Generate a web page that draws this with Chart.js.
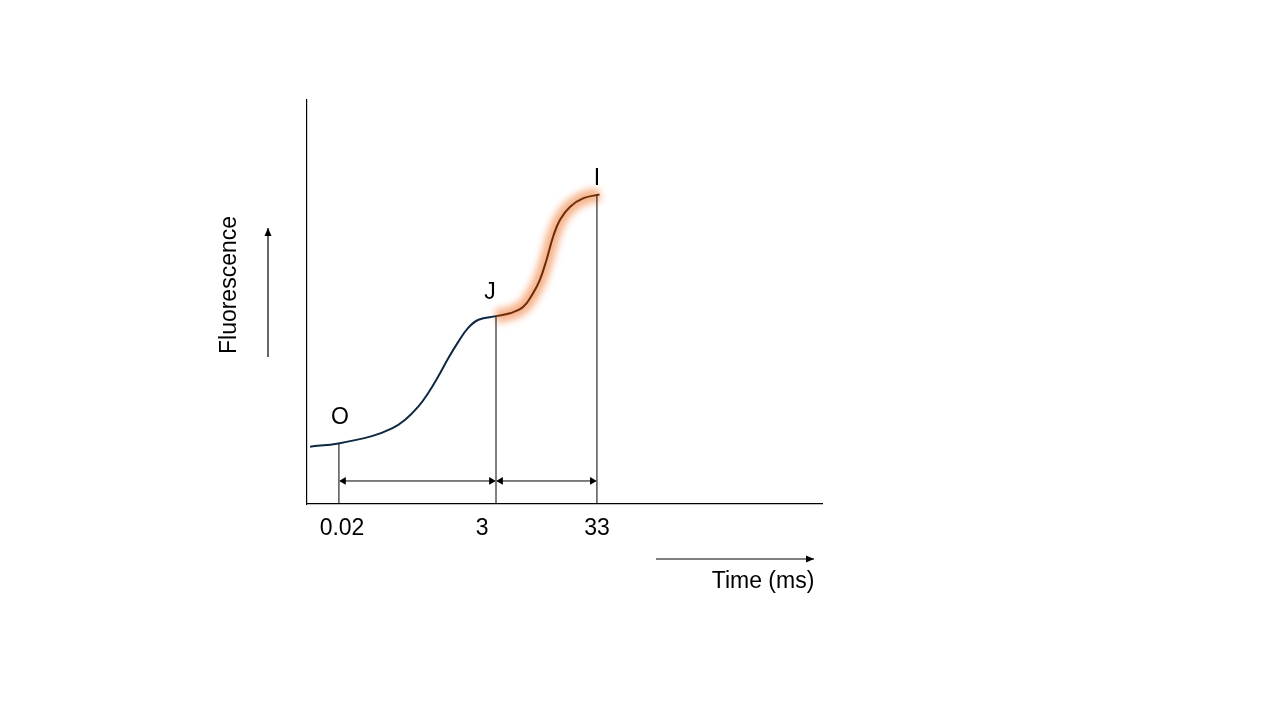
<!DOCTYPE html>
<html>
<head>
<meta charset="utf-8">
<script src="https://cdn.jsdelivr.net/npm/chart.js@4.4.1/dist/chart.umd.min.js"></script>
<style>
html,body{margin:0;padding:0;background:#fff;}
#wrap{width:1280px;height:720px;position:relative;}
</style>
</head>
<body>
<div id="wrap"><canvas id="c" width="1280" height="720"></canvas></div>
<script>
// Schematic OJI fluorescence transient (arbitrary units, x 0..100, y 0..100)
const ojX = [0.6, 6.1, 12.6, 16.5, 19.0, 21.6, 23.6, 25.5, 27.4, 29.4, 31.3, 33.3, 36.7];
const ojY = [14.2, 15.0, 16.8, 18.7, 20.8, 24.1, 27.6, 31.6, 36.0, 40.2, 43.6, 45.6, 46.5];
const jiX = [36.7, 39.4, 42.0, 43.9, 45.2, 46.5, 47.8, 49.1, 51.1, 53.7, 56.8];
const jiY = [46.5, 47.2, 48.8, 52.2, 55.4, 60.4, 66.2, 70.3, 73.6, 75.7, 76.6];
const markX = [6.2, 36.7, 56.3];          // O, J, I times (positions)
const markY = [15.1, 46.5, 76.6];
const markNames = ['O', 'J', 'I'];
const tickValues = [6.8, 34.0, 56.3];
const tickLabels = ['0.02', '3', '33'];
const arrowY = 5.7;

const pts = (xs, ys) => xs.map((x, i) => ({x: x, y: ys[i]}));

const datasets = [
  {data: pts(jiX, jiY), borderColor: 'rgba(245,160,110,0.8)', borderWidth: 14, glow: true,
   pointRadius: 0, tension: 0.4, order: 5},
  {data: pts(ojX, ojY), borderColor: '#0E2841', borderWidth: 2,
   pointRadius: 0, tension: 0.4, order: 1},
  {data: pts(jiX, jiY), borderColor: '#6B2E0A', borderWidth: 2,
   pointRadius: 0, tension: 0.4, order: 1}
];
// vertical marker lines
markX.forEach((x, i) => {
  datasets.push({data: [{x: x, y: 0}, {x: x, y: markY[i]}], borderColor: '#000', borderWidth: 1,
    pointRadius: 0, tension: 0, order: 2});
});
// double-headed interval arrows
for (let i = 0; i < markX.length - 1; i++) {
  datasets.push({data: [{x: markX[i] + 0.9, y: arrowY}, {x: markX[i + 1] - 0.9, y: arrowY}],
    borderColor: '#000', backgroundColor: '#000', borderWidth: 1, tension: 0,
    pointStyle: 'triangle', pointRadius: 4.5, pointRotation: [270, 90], pointBorderWidth: 0,
    order: 2});
}

const glowPlugin = {
  id: 'glow',
  beforeDatasetDraw(chart, args) {
    if (chart.data.datasets[args.index].glow) { chart.ctx.save(); chart.ctx.filter = 'blur(3.5px)'; }
  },
  afterDatasetDraw(chart, args) {
    if (chart.data.datasets[args.index].glow) { chart.ctx.restore(); }
  }
};

const FONT = '"Liberation Sans", Arial, sans-serif';
function arrow(ctx, x1, y1, x2, y2) {
  ctx.beginPath(); ctx.moveTo(x1, y1); ctx.lineTo(x2, y2); ctx.stroke();
  const a = Math.atan2(y2 - y1, x2 - x1), L = 8, W = 3.5;
  ctx.beginPath();
  ctx.moveTo(x2, y2);
  ctx.lineTo(x2 - L * Math.cos(a) + W * Math.sin(a), y2 - L * Math.sin(a) - W * Math.cos(a));
  ctx.lineTo(x2 - L * Math.cos(a) - W * Math.sin(a), y2 - L * Math.sin(a) + W * Math.cos(a));
  ctx.closePath(); ctx.fill();
}

const annot = {
  id: 'annot',
  afterDraw(chart) {
    const {ctx, chartArea: ca, scales: {x, y}} = chart;
    ctx.save();
    ctx.fillStyle = '#000'; ctx.strokeStyle = '#000'; ctx.lineWidth = 1.2;
    ctx.font = '23px ' + FONT;
    ctx.textAlign = 'center'; ctx.textBaseline = 'middle';
    const offs = [[1, -25], [-6, -23], [0, -16]];
    markNames.forEach((n, i) => {
      ctx.fillText(n, x.getPixelForValue(markX[i]) + offs[i][0], y.getPixelForValue(markY[i]) + offs[i][1]);
    });
    tickValues.forEach((v, i) => {
      ctx.fillText(tickLabels[i], x.getPixelForValue(v), ca.bottom + 25);
    });
    ctx.fillText('Time (ms)', ca.right - 59, ca.bottom + 78);
    arrow(ctx, ca.right - 166, ca.bottom + 55, ca.right - 8, ca.bottom + 55);
    ctx.save();
    ctx.translate(ca.left - 77, ca.top + 185);
    ctx.rotate(-Math.PI / 2);
    ctx.fillText('Fluorescence', 0, 0);
    ctx.restore();
    arrow(ctx, ca.left - 39, ca.top + 257, ca.left - 39, ca.top + 128);
    ctx.restore();
  }
};

new Chart(document.getElementById('c'), {
  type: 'line',
  data: {datasets: datasets},
  plugins: [glowPlugin, annot],
  options: {
    responsive: false, animation: false, devicePixelRatio: 1,
    layout: {padding: {left: 307, right: 458, top: 100, bottom: 216}},
    plugins: {legend: {display: false}, tooltip: {enabled: false}},
    scales: {
      x: {type: 'linear', min: 0, max: 100,
          ticks: {display: false}, grid: {display: false, drawTicks: false},
          border: {display: true, color: '#000', width: 1.2}},
      y: {type: 'linear', min: 0, max: 100,
          ticks: {display: false}, grid: {display: false, drawTicks: false},
          border: {display: true, color: '#000', width: 1.2}}
    }
  }
});
</script>
</body>
</html>
